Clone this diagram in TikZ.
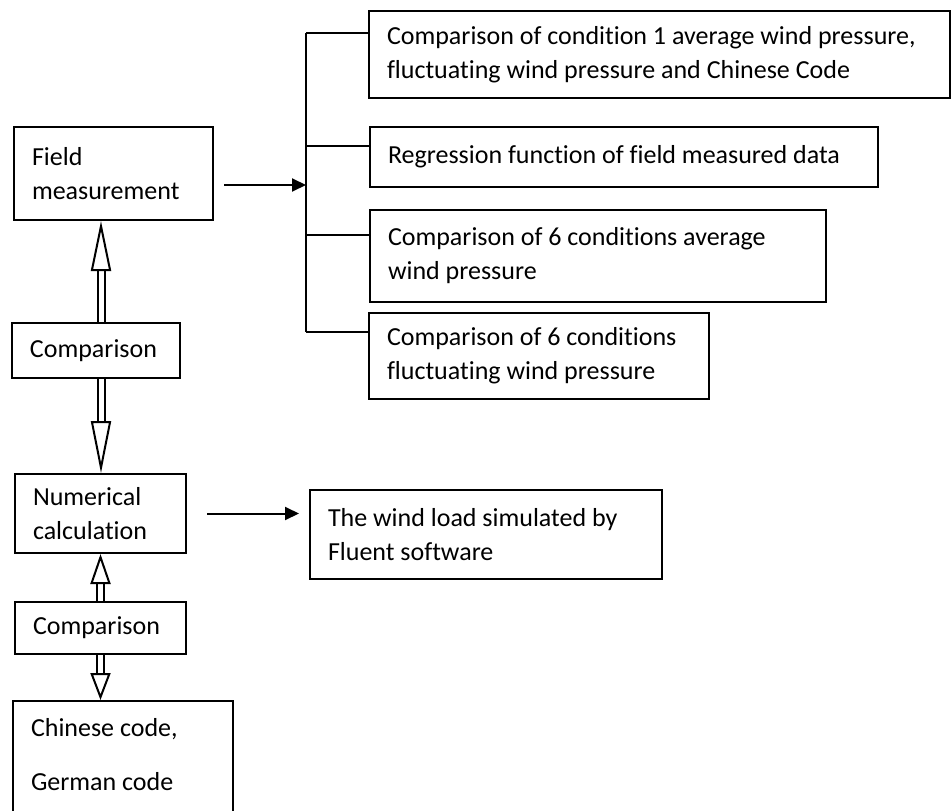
\documentclass[tikz,border=0pt]{standalone}
\usepackage{fontspec}
\setmainfont[Ligatures=NoCommon]{Carlito}
\usetikzlibrary{
  arrows.meta,
  calc,
}

\tikzset{
  box/.style={draw, line width=2pt, anchor=north west, align=flush left,
    inner xsep=17pt, inner ysep=0pt,
    font=\fontsize{26}{34}\selectfont},
  arr/.style={line width=2pt, -{Triangle[length=14pt, width=13pt]}},
  hollow/.style={double, double distance=5pt, line width=2pt,
    -{Triangle[open, length=#1, width=20pt, line width=2pt]}},
}

\begin{document}
\begin{tikzpicture}[x=1pt, y=-1pt]
  \clip (0,0) rectangle (951,811);
  \useasboundingbox (0,0) rectangle (951,811);

  % left column
  \node[box, minimum width=199pt, minimum height=93pt, text width=163pt] (field) at (13,126) {Field\\measurement};
  \node[box, minimum width=168pt, minimum height=55pt, text width=132pt] (cmpA) at (11,322) {Comparison};
  \node[box, minimum width=171pt, minimum height=79pt, text width=135pt] (numcal) at (14,473) {Numerical\\calculation};
  \node[box, minimum width=171pt, minimum height=52pt, text width=135pt] (cmpB) at (14,601) {Comparison};
  \node[box, minimum width=220pt, minimum height=118pt, text width=184pt, text depth=66pt] (codes) at (12,700) {Chinese code,\\[20pt]German code};

  % right column
  \node[box, minimum width=581pt, minimum height=87pt, text width=545pt] (resA) at (368,10) {Comparison of condition 1 average wind pressure,\\fluctuating wind pressure and Chinese Code};
  \node[box, minimum width=508pt, minimum height=60pt, text width=472pt] (resB) at (369,126) {Regression function of field measured data};
  \node[box, minimum width=456pt, minimum height=92pt, text width=420pt] (resC) at (369,209) {Comparison of 6 conditions average\\wind pressure};
  \node[box, minimum width=340pt, minimum height=86pt, text width=304pt] (resD) at (368,312) {Comparison of 6 conditions\\fluctuating wind pressure};
  \node[box, minimum width=352pt, minimum height=89pt, text width=316pt] (fluent) at (309,489) {The wind load simulated by\\Fluent software};

  % bracket
  \coordinate (brA) at (306,33);
  \coordinate (brB) at (306,146);
  \coordinate (brC) at (306,235);
  \coordinate (brD) at (306,332);
  \coordinate (fm) at (306,185);
  \draw[line width=2pt] (brA) -- (brD);
  \foreach \r/\b in {A/resA,B/resB,C/resC,D/resD}
    \draw[line width=2pt] (br\r) -- (br\r -| \b.west);

  \draw[arr] ([xshift=10pt]field.east |- fm) -- (fm);
  \draw[arr] ([xshift=20pt]numcal.east) -- ([xshift=-10pt]numcal.east -| fluent.west);

  % hollow arrows
  \draw[hollow=50pt] ([xshift=5pt]cmpA.north) -- ([xshift=5pt]cmpA.north |- field.south);
  \draw[hollow=52pt] ([xshift=5pt]cmpA.south) -- ([xshift=5pt]cmpA.south |- numcal.north);
  \draw[hollow=30pt] (cmpB.north) -- (cmpB.north |- numcal.south);
  \draw[hollow=27pt] (cmpB.south) -- (cmpB.south |- codes.north);
\end{tikzpicture}
\end{document}
